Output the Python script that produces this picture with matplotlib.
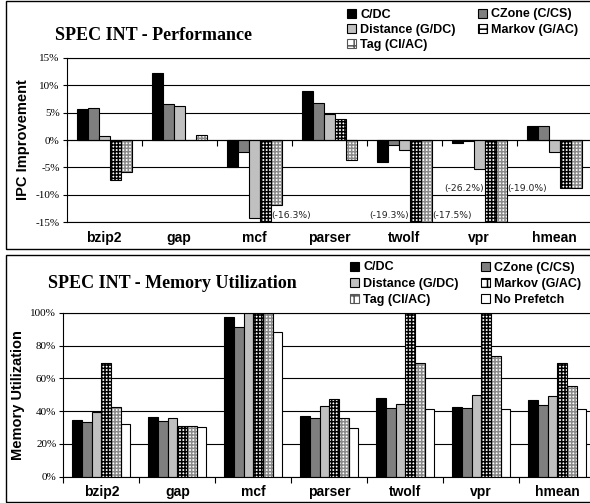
import matplotlib
matplotlib.use('Agg')
import matplotlib.pyplot as plt
import numpy as np
from matplotlib.patches import Patch, Rectangle

# ---------------- data ----------------
categories = ['bzip2', 'gap', 'mcf', 'parser', 'twolf', 'vpr', 'hmean']

perf_labels = ['C/DC', 'CZone (C/CS)', 'Distance (G/DC)', 'Markov (G/AC)', 'Tag (CI/AC)']
perf_cdc = [5.6, 12.2, -5.0, 9.0, -4.1, -0.6, 2.6]
perf_czone = [5.9, 6.5, -2.2, 6.8, -0.9, -0.1, 2.6]
perf_distance = [0.7, 6.2, -14.2, 4.8, -1.8, -5.3, -2.2]
perf_markov = [-7.3, 0.0, -16.3, 3.9, -19.3, -26.2, -8.7]
perf_tag = [-5.9, 0.9, -11.8, -3.6, -17.5, -19.0, -8.7]

mem_labels = ['C/DC', 'CZone (C/CS)', 'Distance (G/DC)', 'Markov (G/AC)', 'Tag (CI/AC)', 'No Prefetch']
mem_cdc = [34.3, 36.3, 97.6, 37.1, 47.8, 42.4, 46.7]
mem_czone = [33.3, 33.7, 91.0, 35.5, 42.0, 41.6, 43.7]
mem_distance = [39.4, 35.5, 100, 43.3, 44.5, 49.8, 49.4]
mem_markov = [69.6, 31.0, 100, 47.6, 100, 100, 69.6]
mem_tag = [42.2, 31.0, 100, 35.5, 69.4, 73.9, 55.1]
mem_noprefetch = [32.4, 30.6, 88.0, 30.0, 41.4, 41.4, 41.4]

perf_yticks = [-15, -10, -5, 0, 5, 10, 15]
mem_yticks = [0, 20, 40, 60, 80, 100]

# ---------------- style ----------------
plt.rcParams['hatch.linewidth'] = 1.1
SANS = ['Liberation Sans', 'DejaVu Sans']
SERIF = ['Liberation Serif', 'DejaVu Serif']

styles = {
    'C/DC': dict(fc='black', hatch=None, hc=None),
    'CZone (C/CS)': dict(fc='#7f7f7f', hatch=None, hc=None),
    'Distance (G/DC)': dict(fc='#c0c0c0', hatch=None, hc=None),
    'Markov (G/AC)': dict(fc='white', hatch='+++++', hc='black'),
    'Tag (CI/AC)': dict(fc='white', hatch='+++++', hc='#8a8a8a'),
    'No Prefetch': dict(fc='white', hatch=None, hc=None),
}

W, H = 590, 503
fig = plt.figure(figsize=(W / 100, H / 100), dpi=100)


def rect(l, t, r, b):
    return [l / W, 1 - b / H, (r - l) / W, (b - t) / H]


def draw_bars(ax, series, labels, width):
    x = np.arange(len(categories))
    n = len(series)
    for i, (vals, lab) in enumerate(zip(series, labels)):
        st = styles[lab]
        pos = x + (i - (n - 1) / 2) * width
        if st['hatch']:
            ax.bar(pos, vals, width, color='white', edgecolor=st['hc'],
                   hatch=st['hatch'], linewidth=0, zorder=2)
            ax.bar(pos, vals, width, fill=False, edgecolor='black',
                   linewidth=0.8, zorder=3)
        else:
            ax.bar(pos, vals, width, color=st['fc'], edgecolor='black',
                   linewidth=0.8, zorder=2)


def handles(labels):
    hs = []
    for lab in labels:
        st = styles[lab]
        if st['hatch']:
            hs.append(Patch(facecolor='white', edgecolor='black' if lab == 'Markov (G/AC)' else '#555555',
                            hatch='++', linewidth=0.8, label=lab))
        else:
            hs.append(Patch(facecolor=st['fc'], edgecolor='black', linewidth=0.8, label=lab))
    return hs


def style_axis(ax, yticks, fmt):
    ax.set_xlim(-0.5, len(categories) - 0.5)
    ax.set_ylim(yticks[0], yticks[-1])
    ax.set_yticks(yticks, [fmt(v) for v in yticks])
    for lbl in ax.get_yticklabels():
        lbl.set_fontfamily(SERIF)
        lbl.set_fontsize(8)
    ax.tick_params(axis='y', direction='out', length=3, width=0.8, pad=2)
    ax.yaxis.grid(True, color='black', linewidth=0.8)
    ax.set_axisbelow(True)
    ax.spines['right'].set_visible(False)
    for s in ['left', 'top', 'bottom']:
        ax.spines[s].set_linewidth(0.8)


legend_kw = dict(loc='upper left', ncol=2, frameon=False,
                 prop=dict(family=SANS, weight='bold', size=9), handlelength=0.75, handleheight=0.75,
                 handletextpad=0.3, columnspacing=1.75, borderpad=0, borderaxespad=0)

# ---------------- top chart ----------------
ax1 = fig.add_axes(rect(66.7, 57.7, 591.7, 222.3))
draw_bars(ax1, [perf_cdc, perf_czone, perf_distance, perf_markov, perf_tag], perf_labels, 0.147)
style_axis(ax1, perf_yticks, lambda v: f'{v}%')
ax1.spines['bottom'].set_position(('data', 0))
ax1.set_xticks(np.arange(len(categories) + 1) - 0.5, [''] * (len(categories) + 1))
ax1.tick_params(axis='x', direction='out', length=4, width=0.8)
sec = ax1.secondary_xaxis('bottom')
sec.set_xticks(np.arange(len(categories)), categories)
sec.tick_params(length=0, pad=6)
sec.spines['bottom'].set_linewidth(0.8)
for lbl in sec.get_xticklabels():
    lbl.set_fontfamily(SANS)
    lbl.set_fontweight('bold')
    lbl.set_fontsize(10)
ax1.set_ylabel('IPC Improvement', fontfamily=SANS, fontweight='bold', fontsize=10.5, labelpad=4)

# out-of-range value labels
x = np.arange(len(categories))
pw = 0.147
perf_series = [perf_cdc, perf_czone, perf_distance, perf_markov, perf_tag]
label_side = {(2, 3): ('right', -13.8), (4, 3): ('left', -13.8), (4, 4): ('right', -13.8),
              (5, 3): ('left', -8.9), (5, 4): ('right', -8.9)}
for (ci, si), (side, yy) in label_side.items():
    v = perf_series[si][ci]
    pos = x[ci] + (si - 2) * pw
    if side == 'right':
        ax1.text(pos + pw / 2 + 0.005, yy, f'({v:.1f}%)', ha='left', va='center',
                 fontsize=6.7, fontfamily='DejaVu Sans', color='#222222', zorder=5)
    else:
        ax1.text(pos - pw / 2 - 0.005, yy, f'({v:.1f}%)', ha='right', va='center',
                 fontsize=6.7, fontfamily='DejaVu Sans', color='#222222', zorder=5)

fig.text(55 / W, 1 - 35 / H, 'SPEC INT - Performance', fontfamily=SERIF, fontweight='bold',
         fontsize=13, va='center', ha='left')
fig.legend(handles=handles(['C/DC', 'Distance (G/DC)', 'Tag (CI/AC)', 'CZone (C/CS)', 'Markov (G/AC)']),
           bbox_to_anchor=(347 / W, 1 - 8.5 / H), labelspacing=0.25, **legend_kw)

# ---------------- bottom chart ----------------
ax2 = fig.add_axes(rect(63.3, 312.7, 595.3, 476.7))
draw_bars(ax2, [mem_cdc, mem_czone, mem_distance, mem_markov, mem_tag, mem_noprefetch], mem_labels, 0.127)
style_axis(ax2, mem_yticks, lambda v: f'{v}%')
ax2.set_xticks(np.arange(len(categories) + 1) - 0.5, [''] * (len(categories) + 1))
ax2.set_xticks(np.arange(len(categories)), categories, minor=True)
ax2.tick_params(axis='x', which='major', direction='out', length=4, width=0.8)
ax2.tick_params(axis='x', which='minor', length=0, pad=6)
for lbl in ax2.get_xticklabels(minor=True):
    lbl.set_fontfamily(SANS)
    lbl.set_fontweight('bold')
    lbl.set_fontsize(10)
ax2.set_ylabel('Memory Utilization', fontfamily=SANS, fontweight='bold', fontsize=10.5, labelpad=4)

fig.text(48 / W, 1 - 283 / H, 'SPEC INT - Memory Utilization', fontfamily=SERIF, fontweight='bold',
         fontsize=13, va='center', ha='left')
fig.legend(handles=handles(['C/DC', 'Distance (G/DC)', 'Tag (CI/AC)', 'CZone (C/CS)', 'Markov (G/AC)', 'No Prefetch']),
           bbox_to_anchor=(350 / W, 1 - 261.5 / H), labelspacing=0.33, **legend_kw)

# panel frames
for (t, b) in [(1, 249), (255, 501.5)]:
    fig.add_artist(Rectangle((6 / W, 1 - b / H), (600 - 6) / W, (b - t) / H, transform=fig.transFigure,
                             fill=False, edgecolor='black', linewidth=1.0))

fig.savefig('out.png', dpi=100)
